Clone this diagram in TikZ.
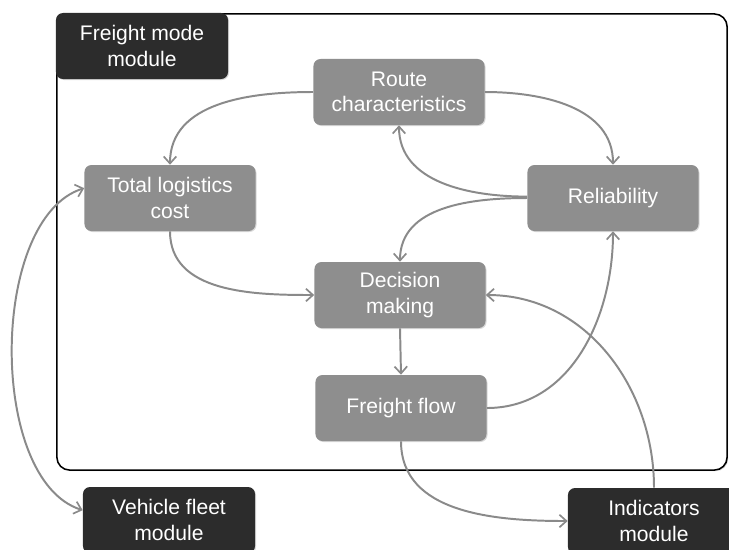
\documentclass[tikz,border=0pt]{standalone}
\usepackage{fontspec}
\setmainfont{Liberation Sans}
\usepackage{tikz}
\usetikzlibrary{arrows.meta,shadows}
\definecolor{boxgray}{HTML}{8E8E8E}
\definecolor{boxdark}{HTML}{2C2C2C}
\definecolor{linegray}{HTML}{8A8A8A}

\begin{document}
\begin{tikzpicture}[x=0.025cm, y=-0.025cm, >={Straight Barb[length=5pt,width=9pt,line width=1.2pt]},
  block/.style={rectangle, fill=boxgray, text=white, minimum width=4.275cm, minimum height=1.65cm, align=center, rounded corners=5pt, font=\fontsize{15}{18}\selectfont, drop shadow={shadow xshift=0.7pt, shadow yshift=-0.7pt, opacity=0.3}},
  module/.style={block, fill=boxdark, minimum width=4.3cm},
  frame/.style={rectangle, draw=black, fill=white, line width=1.1pt, rounded corners=9pt, minimum width=16.75cm, minimum height=11.4cm, drop shadow={shadow xshift=0.8pt, shadow yshift=-0.8pt, opacity=0.35}},
  arrow/.style={->, draw=linegray, line width=1.4pt},
  biarrow/.style={<->, draw=linegray, line width=1.4pt}]
  \useasboundingbox (0,0) rectangle (729,549);
  \node[frame] (box) at (392,242) {};
  \node[module] (fmm) at (142,46) {Freight mode\\module};
  \node[block] (route) at (399,92) {Route\\characteristics};
  \node[block] (tlc) at (170,198) {Total logistics\\cost};
  \node[block] (rel) at (613,198) {Reliability};
  \node[block] (dec) at (400,295) {Decision\\making};
  \node[block] (ff) at (401,408) {Freight flow};
  \node[module] (vfm) at (169,520) {Vehicle fleet\\module};
  \node[module] (ind) at (654,521) {Indicators\\module};
  \draw[arrow] (route.west) to[out=180, in=90] (tlc.north);
  \draw[arrow] (route.east) to[out=0, in=90] (rel.north);
  \draw[arrow] ([yshift=1pt]rel.west) to[out=180, in=-90] (route.south);
  \draw[arrow] (rel.west) to[out=180, in=90] (dec.north);
  \draw[arrow] (tlc.south) to[out=-90, in=180] (dec.west);
  \draw[arrow] (dec.south) -- (ff.north);
  \draw[arrow] (ff.east) to[out=0, in=-90] (rel.south);
  \draw[arrow] (ff.south) to[out=-90, in=180] (ind.west);
  \draw[arrow] (ind.north) to[out=90, in=0] (dec.east);
  \draw[biarrow] ([yshift=7pt]tlc.west) .. controls +(-95,30) and +(-95,-30) .. ([yshift=7pt]vfm.west);
\end{tikzpicture}
\end{document}
